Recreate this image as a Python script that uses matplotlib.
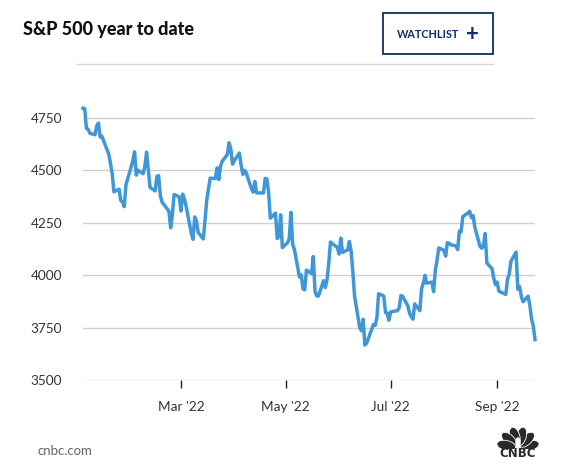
import numpy as np
import pandas as pd
import matplotlib
matplotlib.use("Agg")
import matplotlib.pyplot as plt
from matplotlib.patches import Ellipse, Rectangle
from matplotlib.lines import Line2D

# S&P 500 daily closes, 2022 year to date
jan_days = [3, 4, 5, 6, 7, 10, 11, 12, 13, 14, 18, 19, 20, 21, 24, 25, 26, 27, 28, 31]
jan_close = [4797, 4794, 4701, 4696, 4677, 4670, 4713, 4726, 4659, 4663, 4577, 4533,
             4483, 4398, 4410, 4356, 4350, 4327, 4432, 4516]
feb_days = [1, 2, 3, 4, 7, 8, 9, 10, 11, 14, 15, 16, 17, 18, 22, 23, 24, 25, 28]
feb_close = [4547, 4589, 4477, 4501, 4484, 4522, 4587, 4504, 4419, 4402, 4471, 4475,
             4380, 4349, 4305, 4226, 4289, 4385, 4374]
mar_days = [1, 2, 3, 4, 7, 8, 9, 10, 11, 14, 15, 16, 17, 18, 21, 22, 23, 24, 25, 28, 29, 30, 31]
mar_close = [4306, 4387, 4363, 4329, 4201, 4171, 4278, 4260, 4204, 4173, 4262, 4358,
             4412, 4463, 4461, 4512, 4456, 4520, 4543, 4576, 4632, 4602, 4530]
apr_days = [1, 4, 5, 6, 7, 8, 11, 12, 13, 14, 18, 19, 20, 21, 22, 25, 26, 27, 28, 29]
apr_close = [4546, 4583, 4525, 4481, 4500, 4488, 4413, 4397, 4447, 4393, 4392, 4462,
             4459, 4394, 4272, 4296, 4175, 4184, 4288, 4132]
may_days = [2, 3, 4, 5, 6, 9, 10, 11, 12, 13, 16, 17, 18, 19, 20, 23, 24, 25, 26, 27, 31]
may_close = [4155, 4175, 4300, 4147, 4123, 3991, 4001, 3935, 3930, 4024, 4008, 4089,
             3924, 3901, 3901, 3974, 3941, 3979, 4058, 4158, 4132]
jun_days = [1, 2, 3, 6, 7, 8, 9, 10, 13, 14, 15, 16, 17, 21, 22, 23, 24, 27, 28, 29, 30]
jun_close = [4101, 4177, 4109, 4121, 4161, 4116, 4018, 3901, 3750, 3735, 3790, 3667,
             3675, 3765, 3760, 3796, 3912, 3900, 3822, 3819, 3785]
jul_days = [1, 5, 6, 7, 8, 11, 12, 13, 14, 15, 18, 19, 20, 21, 22, 25, 26, 27, 28, 29]
jul_close = [3825, 3831, 3845, 3903, 3899, 3854, 3819, 3802, 3790, 3863, 3831, 3937,
             3960, 3999, 3962, 3967, 3921, 4024, 4072, 4130]
aug_days = [1, 2, 3, 4, 5, 8, 9, 10, 11, 12, 15, 16, 17, 18, 19, 22, 23, 24, 25, 26, 29, 30, 31]
aug_close = [4119, 4091, 4155, 4152, 4145, 4140, 4122, 4210, 4207, 4280, 4297, 4305,
             4274, 4284, 4228, 4138, 4129, 4141, 4199, 4058, 4031, 3986, 3955]
sep_days = [1, 2, 6, 7, 8, 9, 12, 13, 14, 15, 16, 19, 20, 21, 22, 23]
sep_close = [3967, 3924, 3908, 3980, 4006, 4067, 4110, 3933, 3946, 3901, 3873, 3900,
             3856, 3790, 3758, 3693]

months = [(1, jan_days, jan_close), (2, feb_days, feb_close), (3, mar_days, mar_close),
          (4, apr_days, apr_close), (5, may_days, may_close), (6, jun_days, jun_close),
          (7, jul_days, jul_close), (8, aug_days, aug_close), (9, sep_days, sep_close)]

y_ticks = [3500, 3750, 4000, 4250, 4500, 4750]
x_ticks = ["2022-03-01", "2022-05-01", "2022-07-01", "2022-09-01"]
x_labels = ["Mar '22", "May '22", "Jul '22", "Sep '22"]

dates, closes = [], []
for m, days, vals in months:
    dates += [pd.Timestamp(2022, m, d) for d in days]
    closes += vals

plt.rcParams['font.family'] = ['Lato', 'DejaVu Sans']

W, H = 567, 473
fig = plt.figure(figsize=(W / 100, H / 100), dpi=100)

def px(x0, y_top, w, h):
    return [x0 / W, 1 - (y_top + h) / H, w / W, h / H]

# main plot: 3500 at y=380, 4750 at y=118
top_val = 4850
y_top = 380 - (top_val - 3500) * (262 / 1250)
ax = fig.add_axes(px(83, y_top, 535 - 83, 380 - y_top))
ax.plot(dates, closes, color="#3f97d8", lw=2.5, solid_joinstyle="round", clip_on=False, zorder=3)
ax.set_xlim(pd.Timestamp("2022-01-03"), pd.Timestamp("2022-09-23"))
ax.set_ylim(3500, top_val)
ax.set_yticks(y_ticks)
ax.set_yticklabels([str(v) for v in y_ticks])
for v in y_ticks:
    ax.axhline(v, color="#d0d0d0", lw=1.0, zorder=1)
ax.set_xticks([pd.Timestamp(t) for t in x_ticks])
ax.set_xticklabels(x_labels)
for s in ax.spines.values():
    s.set_visible(False)
ax.tick_params(axis="y", length=0, pad=15, labelsize=9.8, labelcolor="#333333")
ax.tick_params(axis="x", length=6, width=1, color="#222222", pad=9,
               labelsize=9.8, labelcolor="#333333")

# header
fig.text(23 / W, 1 - 29 / H, "S&P 500 year to date", fontsize=13, fontweight="black",
         color="#111111", va="center", ha="left")
fig.patches.append(Rectangle((383 / W, 1 - 54 / H), 110 / W, 41 / H, transform=fig.transFigure,
                             fill=False, edgecolor="#0d2f66", lw=1.3))
fig.text(397 / W, 1 - 34 / H, "WATCHLIST", fontsize=7.8, fontweight="bold",
         color="#0d2f66", va="center", ha="left")
fig.text(472 / W, 1 - 34.5 / H, "+", fontsize=16, fontweight="bold", color="#0d2f66",
         va="center", ha="center")
fig.lines.append(Line2D([77 / W, 493 / W], [1 - 64 / H, 1 - 64 / H], transform=fig.transFigure,
                        color="#d6d6d6", lw=1))

# footer
fig.text(37 / W, 1 - 451 / H, "cnbc.com", fontsize=9.5, color="#666666", va="center", ha="left")

# CNBC peacock logo
lax = fig.add_axes(px(496, 425, 44, 24))
lax.set_xlim(-1.1, 1.1)
lax.set_ylim(-0.05, 1.15)
lax.axis("off")
for ang in np.linspace(12, 168, 6):
    a = np.deg2rad(ang)
    lax.add_patch(Ellipse((0.6 * np.cos(a), 0.6 * np.sin(a)), 0.95, 0.5, angle=ang,
                          facecolor="#2a2a2a", edgecolor="white", lw=0.6))
lax.add_patch(Ellipse((0, 0.25), 0.2, 0.5, color="white"))
fig.text(518 / W, 1 - 453.5 / H, "CNBC", fontsize=8.5, fontweight="bold", color="#2a2a2a",
         family="DejaVu Sans", va="center", ha="center")

fig.savefig("out.png", dpi=100)
